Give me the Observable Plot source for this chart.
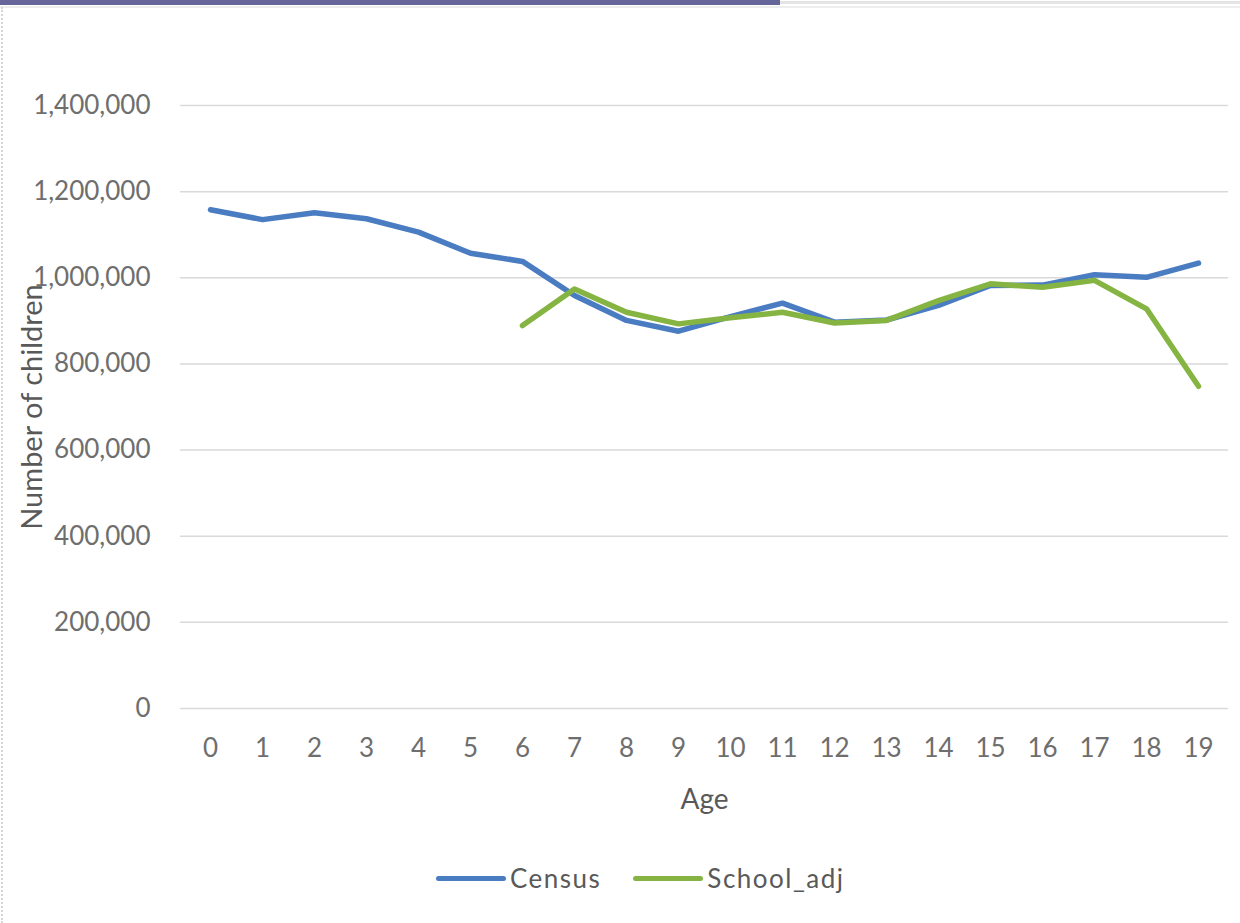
<!DOCTYPE html>
<html><head><meta charset="utf-8">
<script src="https://cdn.jsdelivr.net/npm/d3@7"></script>
<script src="https://cdn.jsdelivr.net/npm/@observablehq/plot@0.6"></script>
<style>
body{margin:0;background:#fff;width:1240px;height:923px;overflow:hidden;position:relative;font-family:Lato,"Open Sans",sans-serif;}
#topbar{position:absolute;left:0;top:0;width:780px;height:5px;background:#65659a;}
#topline{position:absolute;left:780px;top:1px;width:460px;height:3px;background:#e4e4e4;}
#frameline{position:absolute;left:0;top:6px;width:1240px;height:2px;background:#ededed;}
#leftborder{position:absolute;left:1px;top:7px;height:916px;border-left:2px dotted #d6d6d6;}
#chart{position:absolute;left:0;top:0;}
#legend{position:absolute;top:862px;left:436px;display:flex;align-items:center;font-size:26px;color:#595959;letter-spacing:1.5px;}
.item{display:flex;align-items:center;margin-right:32px;}
.sw{width:70px;height:5px;border-radius:3px;margin-right:4px;}
</style></head>
<body>
<div id="topbar"></div><div id="topline"></div><div id="frameline"></div><div id="leftborder"></div>
<div id="chart"></div>
<div id="legend"></div>
<script>
const ages = [0,1,2,3,4,5,6,7,8,9,10,11,12,13,14,15,16,17,18,19];
const census = [1158000,1135000,1151000,1137000,1106000,1057000,1038000,959000,901000,876000,910000,941000,897000,902000,936000,982000,983000,1007000,1001000,1034000];
const schoolAdj = [null,null,null,null,null,null,889000,974000,920000,893000,907000,920000,895000,901000,947000,986000,978000,994000,928000,748000];
const seriesNames = ["Census","School_adj"];
const seriesColors = ["#4a7cc2","#86b443"];
const yTicks = [0,200000,400000,600000,800000,1000000,1200000,1400000];

const rows = [];
ages.forEach((a,i)=>{ rows.push({age:a, value:census[i], series:seriesNames[0]}); });
ages.forEach((a,i)=>{ if (schoolAdj[i] != null) rows.push({age:a, value:schoolAdj[i], series:seriesNames[1]}); });

const chart = Plot.plot({
  width: 1240,
  height: 830,
  marginLeft: 180,
  marginRight: 12,
  marginTop: 105,
  marginBottom: 122,
  style: {fontFamily: "Lato, 'Open Sans', sans-serif", fontSize: "26px", background: "transparent"},
  x: {type: "point", domain: ages, padding: 0.5},
  y: {domain: [0, 1400000]},
  color: {domain: seriesNames, range: seriesColors},
  marks: [
    Plot.gridY(yTicks, {stroke: "#d9d9d9", strokeOpacity: 1, strokeWidth: 1.5}),
    Plot.axisY({ticks: yTicks, tickSize: 0, tickPadding: 30, tickFormat: d3.format(","), label: null, fill: "#6e6e6e", fontSize: 26, letterSpacing: 1.6}),
    Plot.axisY({ticks: [], label: "Number of children", labelAnchor: "center", labelArrow: "none", labelOffset: 159, fill: "#595959", fontSize: 29, letterSpacing: 2}),
    Plot.axisX({tickSize: 0, tickPadding: 30, tickFormat: d => String(d), label: null, fill: "#6e6e6e", fontSize: 26, letterSpacing: 1}),
    Plot.axisX({ticks: [], label: "Age", labelAnchor: "center", labelArrow: "none", labelOffset: 100, fill: "#595959", fontSize: 28, letterSpacing: 2}),
    Plot.line(rows, {x: "age", y: "value", z: "series", stroke: "series", strokeWidth: 5.5, strokeLinejoin: "round", strokeLinecap: "round"})
  ]
});
document.getElementById("chart").appendChild(chart);

const legend = document.getElementById("legend");
seriesNames.forEach((name, i) => {
  const it = document.createElement("div"); it.className = "item";
  const sw = document.createElement("div"); sw.className = "sw"; sw.style.background = seriesColors[i];
  const tx = document.createElement("span"); tx.textContent = name;
  it.appendChild(sw); it.appendChild(tx); legend.appendChild(it);
});
</script>
</body></html>
